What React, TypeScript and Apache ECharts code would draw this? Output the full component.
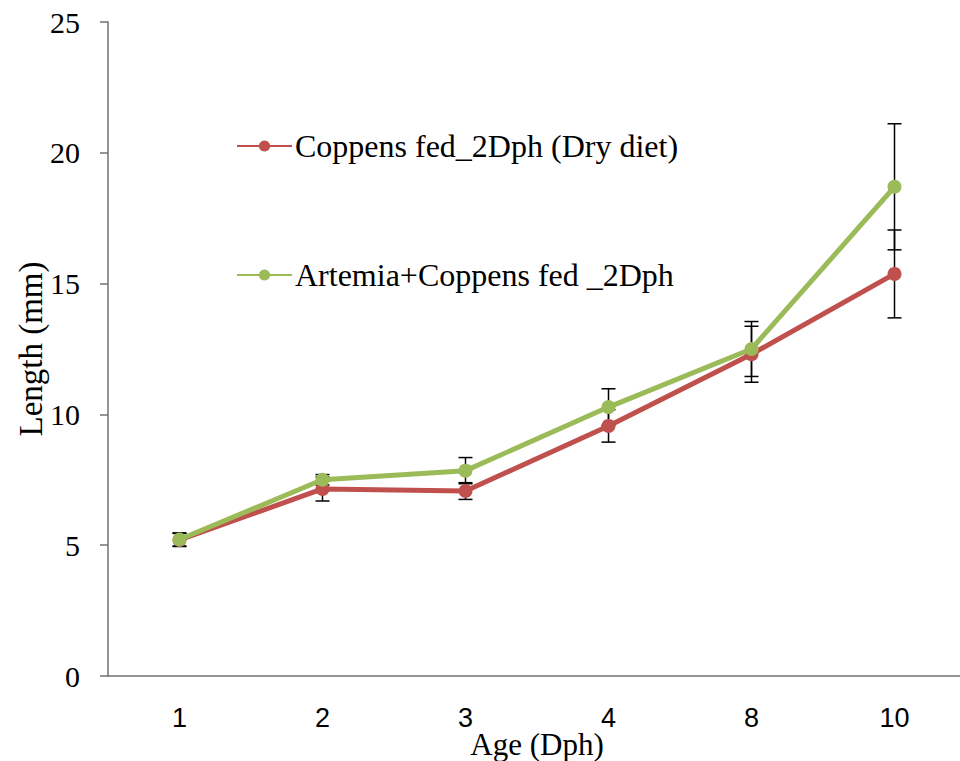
import React, { useEffect, useRef } from "react";
import * as echarts from "echarts";

const categories = ["1", "2", "3", "4", "8", "10"];
const coppens = [5.2, 7.15, 7.07, 9.56, 12.3, 15.37];
const coppensErr = [0.25, 0.46, 0.32, 0.62, 1.07, 1.68];
const artemia = [5.22, 7.5, 7.85, 10.28, 12.5, 18.7];
const artemiaErr = [0.25, 0.2, 0.5, 0.7, 1.05, 2.41];
const yTicks = [0, 5, 10, 15, 20, 25];

const RED = "#C0504D";
const GREEN = "#9BBB59";

function errorSeries(values: number[], errs: number[], name: string) {
  return {
    type: "custom",
    name,
    z: 1,
    silent: true,
    data: values.map((v, i) => [i, v - errs[i], v + errs[i]]),
    renderItem: (params: any, api: any) => {
      const x = api.value(0);
      const lo = api.coord([x, api.value(1)]);
      const hi = api.coord([x, api.value(2)]);
      const w = 7;
      const style = { stroke: "#000", lineWidth: 1.5 };
      return {
        type: "group",
        children: [
          { type: "line", shape: { x1: lo[0], y1: lo[1], x2: hi[0], y2: hi[1] }, style },
          { type: "line", shape: { x1: lo[0] - w, y1: lo[1], x2: lo[0] + w, y2: lo[1] }, style },
          { type: "line", shape: { x1: hi[0] - w, y1: hi[1], x2: hi[0] + w, y2: hi[1] }, style },
        ],
      };
    },
  };
}

export default function App() {
  const ref = useRef<HTMLDivElement>(null);
  useEffect(() => {
    if (!ref.current) return;
    const chart = echarts.init(ref.current, null, { renderer: "svg" });
    chart.setOption({
      animation: false,
      backgroundColor: "#fff",
      grid: { left: 108, top: 22, bottom: 85, width: 858, containLabel: false, outerBoundsMode: "none" },
      legend: {
        orient: "vertical",
        left: 231,
        top: 125,
        itemGap: 97,
        itemWidth: 55,
        itemHeight: 14,
        data: ["Coppens fed_2Dph (Dry diet)", "Artemia+Coppens fed _2Dph"],
        textStyle: { fontFamily: "Liberation Serif", fontSize: 32, color: "#000", padding: [0, 0, 0, -2] },
      },
      xAxis: {
        type: "category",
        data: categories,
        boundaryGap: true,
        axisLine: { lineStyle: { color: "#707070", width: 1.5 } },
        axisTick: { show: false },
        axisLabel: { fontFamily: "Liberation Sans", fontSize: 27, color: "#000", margin: 28 },
        name: "Age (Dph)",
        nameLocation: "middle",
        nameMoveOverlap: false,
        nameGap: 53,
        nameTextStyle: { fontFamily: "Liberation Serif", fontSize: 31, color: "#000" },
      },
      yAxis: {
        type: "value",
        min: yTicks[0],
        max: yTicks[yTicks.length - 1],
        interval: 5,
        splitLine: { show: false },
        axisLine: { show: true, lineStyle: { color: "#707070", width: 1.5 } },
        axisTick: { show: true, inside: false, length: 8, lineStyle: { color: "#707070", width: 1.5 } },
        axisLabel: { fontFamily: "Liberation Serif", fontSize: 30, color: "#000", margin: 28 },
        name: "Length (mm)",
        nameLocation: "middle",
        nameMoveOverlap: false,
        nameGap: 61,
        nameTextStyle: { fontFamily: "Liberation Serif", fontSize: 33, color: "#000" },
      },
      series: [
        errorSeries(coppens, coppensErr, "errC"),
        errorSeries(artemia, artemiaErr, "errA"),
        {
          type: "line",
          name: "Coppens fed_2Dph (Dry diet)",
          data: coppens,
          z: 3,
          symbol: "circle",
          symbolSize: 14,
          lineStyle: { color: RED, width: 5 },
          itemStyle: { color: RED },
        },
        {
          type: "line",
          name: "Artemia+Coppens fed _2Dph",
          data: artemia,
          z: 4,
          symbol: "circle",
          symbolSize: 14,
          lineStyle: { color: GREEN, width: 5 },
          itemStyle: { color: GREEN },
        },
      ],
    });
    return () => chart.dispose();
  }, []);
  return <div ref={ref} style={{ width: 960, height: 761, position: "absolute", left: 0, top: 0 }} />;
}
